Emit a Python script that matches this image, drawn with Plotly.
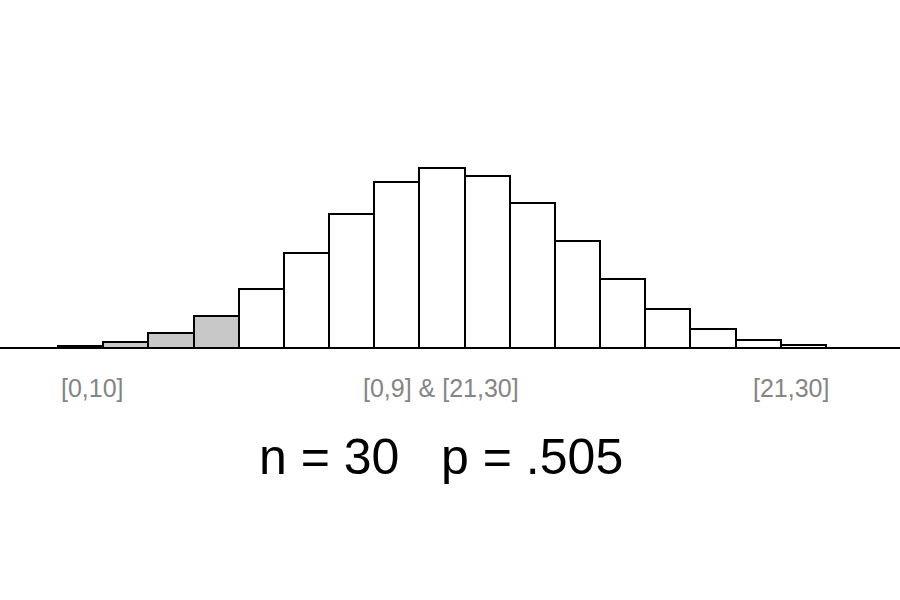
import plotly.graph_objects as go

# Binomial n=30, p=.505 probabilities
k_values = [7, 8, 9, 10, 11, 12, 13, 14, 15, 16, 17, 18, 19, 20, 21, 22, 23]
probabilities = [0.00161, 0.00473, 0.01180, 0.02528, 0.04690, 0.07576, 0.10701,
                 0.13257, 0.14426, 0.13798, 0.11593, 0.08542, 0.05504, 0.03088,
                 0.01500, 0.00626, 0.00222]
shaded = [True, True, True, True] + [False] * 13
tail_labels = ["[0,10]", "[0,9] & [21,30]", "[21,30]"]
title_text = "n = 30   p = .505"

fill_colors = ["#c8c8c8" if s else "#ffffff" for s in shaded]

fig = go.Figure()
fig.add_trace(go.Bar(
    x=k_values, y=probabilities, width=1,
    marker=dict(color=fill_colors, line=dict(color="black", width=2)),
    hoverinfo="x+y",
))

fig.add_shape(type="line", xref="paper", yref="y", x0=0, x1=1, y0=0, y1=0,
              line=dict(color="black", width=2), layer="above")

label_x = [7.26, 14.98, 22.72]
for lx, txt in zip(label_x, tail_labels):
    fig.add_annotation(x=lx, y=-0.032, xref="x", yref="y", text=txt,
                       showarrow=False, font=dict(size=25, color="#858585",
                                                  family="Liberation Sans, Arial"))

fig.add_annotation(x=14.98, y=-0.0872, xref="x", yref="y", text=title_text,
                   showarrow=False, font=dict(size=50, color="black",
                                              family="Liberation Sans, Arial"))

fig.update_layout(
    width=900, height=600,
    margin=dict(l=0, r=0, t=0, b=0),
    paper_bgcolor="white", plot_bgcolor="white",
    showlegend=False,
    bargap=0,
    xaxis=dict(range=[5.216, 25.138], visible=False, showgrid=False, zeroline=False),
    yaxis=dict(range=[-0.2016, 0.2784], visible=False, showgrid=False, zeroline=False),
)

fig.write_html("out.html", config={"displayModeBar": False},
               post_script="document.body.style.margin='0';document.body.style.overflow='hidden';")
